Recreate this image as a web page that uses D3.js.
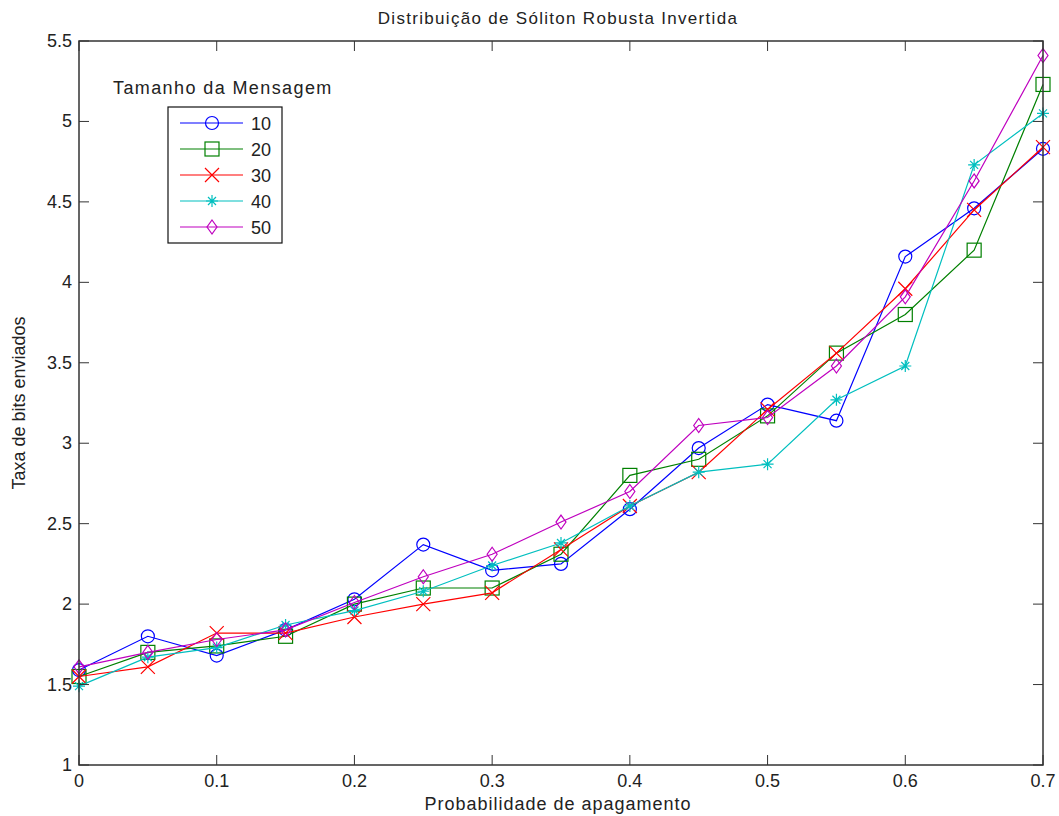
<!DOCTYPE html>
<html>
<head>
<meta charset="utf-8">
<script src="https://cdn.jsdelivr.net/npm/d3@7"></script>
<style>
  body { margin: 0; background: #fff; }
  text { font-family: "Liberation Sans", Arial, sans-serif; fill: #222; }
</style>
</head>
<body>
<script>
// data
var probs = [0, 0.05, 0.1, 0.15, 0.2, 0.25, 0.3, 0.35, 0.4, 0.45, 0.5, 0.55, 0.6, 0.65, 0.7];
var sizes = ["10", "20", "30", "40", "50"];
var s10 = [1.59, 1.80, 1.68, 1.84, 2.03, 2.37, 2.21, 2.25, 2.59, 2.97, 3.24, 3.14, 4.16, 4.46, 4.83];
var s20 = [1.55, 1.70, 1.74, 1.80, 2.00, 2.10, 2.10, 2.31, 2.80, 2.90, 3.17, 3.56, 3.80, 4.20, 5.23];
var s30 = [1.55, 1.61, 1.82, 1.82, 1.92, 2.00, 2.07, 2.34, 2.61, 2.82, 3.21, 3.56, 3.96, 4.45, 4.84];
var s40 = [1.49, 1.67, 1.73, 1.87, 1.96, 2.08, 2.24, 2.38, 2.61, 2.82, 2.87, 3.27, 3.48, 4.73, 5.05];
var s50 = [1.61, 1.70, 1.78, 1.84, 2.01, 2.17, 2.31, 2.51, 2.70, 3.11, 3.16, 3.48, 3.91, 4.63, 5.41];
var xTicks = [0, 0.1, 0.2, 0.3, 0.4, 0.5, 0.6, 0.7];
var yTicks = [1, 1.5, 2, 2.5, 3, 3.5, 4, 4.5, 5, 5.5];

var series = [s10, s20, s30, s40, s50];
var colors = ["#0000ff", "#008000", "#ff0000", "#00bfbf", "#bf00bf"];
var shapes = ["circle", "square", "x", "star", "diamond"];

var W = 1059, H = 816;
var mL = 79, mR = 1043, mT = 41, mB = 765;

var x = d3.scaleLinear().domain([0, 0.7]).range([mL, mR]);
var y = d3.scaleLinear().domain([1, 5.5]).range([mB, mT]);

var svg = d3.select("body").append("svg").attr("width", W).attr("height", H);

// lines
var line = d3.line()
  .x(function (d, i) { return x(probs[i]); })
  .y(function (d) { return y(d); });

function marker(g, shape, color, cx, cy) {
  if (shape == "circle") {
    g.append("circle").attr("cx", cx).attr("cy", cy).attr("r", 6.5)
      .attr("fill", "none").attr("stroke", color).attr("stroke-width", 1.2);
  } else if (shape == "square") {
    g.append("rect").attr("x", cx - 7).attr("y", cy - 7).attr("width", 14).attr("height", 14)
      .attr("fill", "none").attr("stroke", color).attr("stroke-width", 1.2);
  } else if (shape == "x") {
    g.append("path").attr("d", "M" + (cx - 7) + "," + (cy - 7) + "L" + (cx + 7) + "," + (cy + 7) +
      "M" + (cx - 7) + "," + (cy + 7) + "L" + (cx + 7) + "," + (cy - 7))
      .attr("stroke", color).attr("stroke-width", 1.2);
  } else if (shape == "star") {
    var p = "M" + (cx - 6) + "," + cy + "L" + (cx + 6) + "," + cy +
      "M" + cx + "," + (cy - 6) + "L" + cx + "," + (cy + 6) +
      "M" + (cx - 4) + "," + (cy - 4) + "L" + (cx + 4) + "," + (cy + 4) +
      "M" + (cx - 4) + "," + (cy + 4) + "L" + (cx + 4) + "," + (cy - 4);
    g.append("path").attr("d", p).attr("stroke", color).attr("stroke-width", 1.2);
  } else if (shape == "diamond") {
    g.append("path").attr("d", "M" + cx + "," + (cy - 7) + "L" + (cx + 5) + "," + cy +
      "L" + cx + "," + (cy + 7) + "L" + (cx - 5) + "," + cy + "Z")
      .attr("fill", "none").attr("stroke", color).attr("stroke-width", 1.2);
  }
}

series.forEach(function (s, k) {
  var g = svg.append("g");
  g.append("path").attr("d", line(s)).attr("fill", "none")
    .attr("stroke", colors[k]).attr("stroke-width", 1.2);
  s.forEach(function (v, i) {
    marker(g, shapes[k], colors[k], x(probs[i]), y(v));
  });
});

// axes box, ticks pointing inward on all sides
var axisColor = "#333";
svg.append("rect").attr("x", mL).attr("y", mT)
  .attr("width", mR - mL).attr("height", mB - mT)
  .attr("fill", "none").attr("stroke", axisColor).attr("stroke-width", 1.5);

var tl = 10;
xTicks.forEach(function (t) {
  var px = x(t);
  svg.append("line").attr("x1", px).attr("x2", px).attr("y1", mB).attr("y2", mB - tl)
    .attr("stroke", axisColor);
  svg.append("line").attr("x1", px).attr("x2", px).attr("y1", mT).attr("y2", mT + tl)
    .attr("stroke", axisColor);
  svg.append("text").attr("x", px).attr("y", mB + 22).attr("text-anchor", "middle")
    .attr("font-size", 18).text(t);
});
yTicks.forEach(function (t) {
  var py = y(t);
  svg.append("line").attr("x1", mL).attr("x2", mL + tl).attr("y1", py).attr("y2", py)
    .attr("stroke", axisColor);
  svg.append("line").attr("x1", mR).attr("x2", mR - tl).attr("y1", py).attr("y2", py)
    .attr("stroke", axisColor);
  svg.append("text").attr("x", mL - 7).attr("y", py + 6).attr("text-anchor", "end")
    .attr("font-size", 18).text(t);
});

// title and labels
svg.append("text").attr("x", (mL + mR) / 2 - 3).attr("y", 24).attr("text-anchor", "middle")
  .attr("font-size", 17).attr("letter-spacing", 1.3).text("Distribuição de Sóliton Robusta Invertida");
svg.append("text").attr("x", (mL + mR) / 2 - 3).attr("y", 810).attr("text-anchor", "middle")
  .attr("font-size", 18).attr("letter-spacing", 1).text("Probabilidade de apagamento");
svg.append("text").attr("transform", "translate(25," + ((mT + mB) / 2) + ") rotate(-90)")
  .attr("text-anchor", "middle").attr("font-size", 18).text("Taxa de bits enviados");

// legend
svg.append("text").attr("x", 113).attr("y", 94).attr("font-size", 18).attr("letter-spacing", 1.4)
  .text("Tamanho da Mensagem");
svg.append("rect").attr("x", 168).attr("y", 107).attr("width", 114).attr("height", 136)
  .attr("fill", "#fff").attr("stroke", "#111").attr("stroke-width", 1.2);
sizes.forEach(function (name, k) {
  var ly = 123 + k * 26;
  var g = svg.append("g");
  g.append("line").attr("x1", 180).attr("x2", 243).attr("y1", ly).attr("y2", ly)
    .attr("stroke", colors[k]).attr("stroke-width", 1.2);
  marker(g, shapes[k], colors[k], 212, ly);
  svg.append("text").attr("x", 251).attr("y", ly + 7).attr("font-size", 18).text(name);
});
</script>
</body>
</html>
